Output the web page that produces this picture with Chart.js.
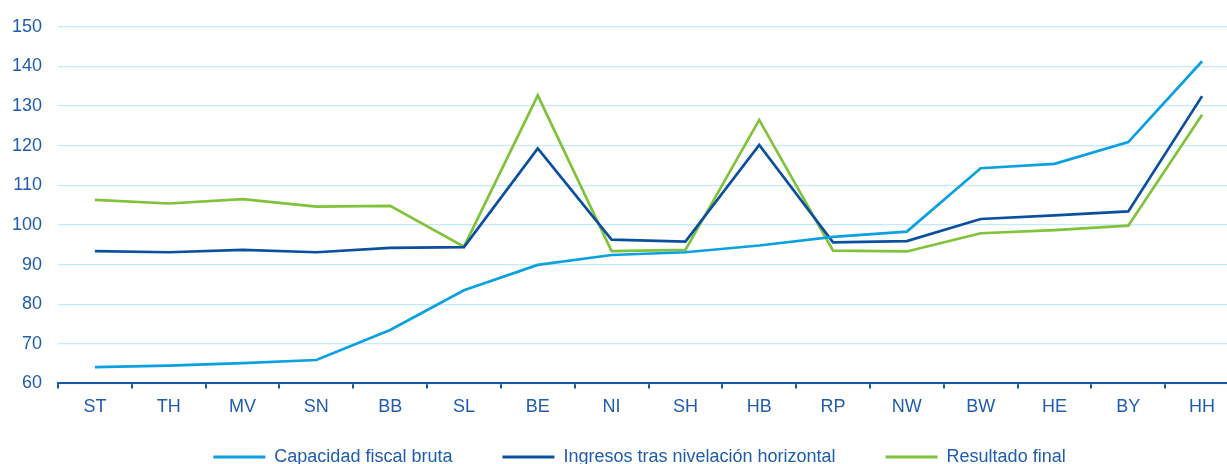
<!DOCTYPE html>
<html>
<head>
<meta charset="utf-8">
<script src="https://cdn.jsdelivr.net/npm/chart.js@4/dist/chart.umd.min.js"></script>
<style>
    html, body { margin: 0; padding: 0; background: #fff; overflow: hidden; }
    #wrap { width: 1239px; height: 504px; position: relative; }
</style>
</head>
<body>
<div id="wrap"><canvas id="plot-lander"></canvas></div>
<script>
// categories (Länder) and series values
let labels = ['ST', 'TH', 'MV', 'SN', 'BB', 'SL', 'BE', 'NI', 'SH', 'HB', 'RP', 'NW', 'BW', 'HE', 'BY', 'HH'];
let capacidad = [64.1, 64.5, 65.1, 65.9, 73.5, 83.5, 89.9, 92.4, 93.1, 94.8, 97.0, 98.3, 114.3, 115.4, 120.9, 141.3];
let ingresos = [93.4, 93.1, 93.7, 93.1, 94.2, 94.4, 119.3, 96.3, 95.8, 120.2, 95.6, 95.9, 101.5, 102.4, 103.4, 132.5];
let resultado = [106.3, 105.4, 106.5, 104.6, 104.8, 94.5, 132.7, 93.4, 93.7, 126.5, 93.5, 93.3, 97.9, 98.7, 99.8, 127.8];
let y_min = 60, y_max = 150, y_step = 10;

let txt_color = '#1f5cb0';
let font_fam = "'Liberation Sans', Arial, sans-serif";

// pull the legend up closer to the x labels (keeps the wide item spacing)
let legend_nudge = {
    id: 'legend_nudge',
    afterLayout: function (chart) {
        let lg = chart.legend;
        if (!lg) return;
        lg.top -= 28;
        lg.bottom -= 28;
        lg.left += 14;
        lg.right += 14;
    }
};

function make_chart() {
    let ctx = document.getElementById('plot-lander');
    var chart = new Chart(ctx, {
        type: 'line',
        data: {
            labels: labels,
            datasets: [
                {
                    label: 'Capacidad fiscal bruta',
                    data: capacidad,
                    borderColor: '#0aa0e2',
                    backgroundColor: '#0aa0e2',
                    borderWidth: 2.7,
                    pointRadius: 0,
                    tension: 0,
                    fill: false
                },
                {
                    label: 'Ingresos tras nivelación horizontal',
                    data: ingresos,
                    borderColor: '#0b4f9f',
                    backgroundColor: '#0b4f9f',
                    borderWidth: 2.7,
                    pointRadius: 0,
                    tension: 0,
                    fill: false
                },
                {
                    label: 'Resultado final',
                    data: resultado,
                    borderColor: '#80c23a',
                    backgroundColor: '#80c23a',
                    borderWidth: 2.7,
                    pointRadius: 0,
                    tension: 0,
                    fill: false
                }
            ]
        },
        options: {
            responsive: true,
            maintainAspectRatio: false,
            animation: false,
            layout: { padding: { top: 14, left: 12, right: 0, bottom: 0 } },
            scales: {
                x: {
                    offset: true,
                    border: { display: true, color: '#1a56a8', width: 2 },
                    grid: {
                        offset: true,
                        drawOnChartArea: false,
                        drawTicks: true,
                        tickLength: 5,
                        color: '#1a56a8',
                        lineWidth: 2
                    },
                    ticks: {
                        color: txt_color,
                        font: { family: font_fam, size: 18 },
                        padding: 8,
                        maxRotation: 0,
                        autoSkip: false
                    }
                },
                y: {
                    min: y_min,
                    max: y_max,
                    border: { display: false },
                    grid: {
                        color: '#c4ebf9',
                        lineWidth: 1.3,
                        drawTicks: false
                    },
                    ticks: {
                        stepSize: y_step,
                        color: txt_color,
                        font: { family: font_fam, size: 18 },
                        padding: 16
                    },
                    afterFit: function (s) { s.width = 46; }
                }
            },
            plugins: {
                title: { display: false },
                tooltip: { enabled: false },
                legend: {
                    position: 'bottom',
                    labels: {
                        color: txt_color,
                        font: { family: font_fam, size: 18 },
                        boxWidth: 52,
                        boxHeight: 3,
                        padding: 50,
                        generateLabels: function (c) {
                            return c.data.datasets.map(function (ds, i) {
                                return {
                                    text: ds.label,
                                    fillStyle: ds.borderColor,
                                    strokeStyle: ds.borderColor,
                                    lineWidth: 0,
                                    fontColor: txt_color,
                                    hidden: false,
                                    datasetIndex: i
                                };
                            });
                        }
                    }
                }
            }
        },
        plugins: [legend_nudge]
    });
    return chart;
}
make_chart();
</script>
</body>
</html>
